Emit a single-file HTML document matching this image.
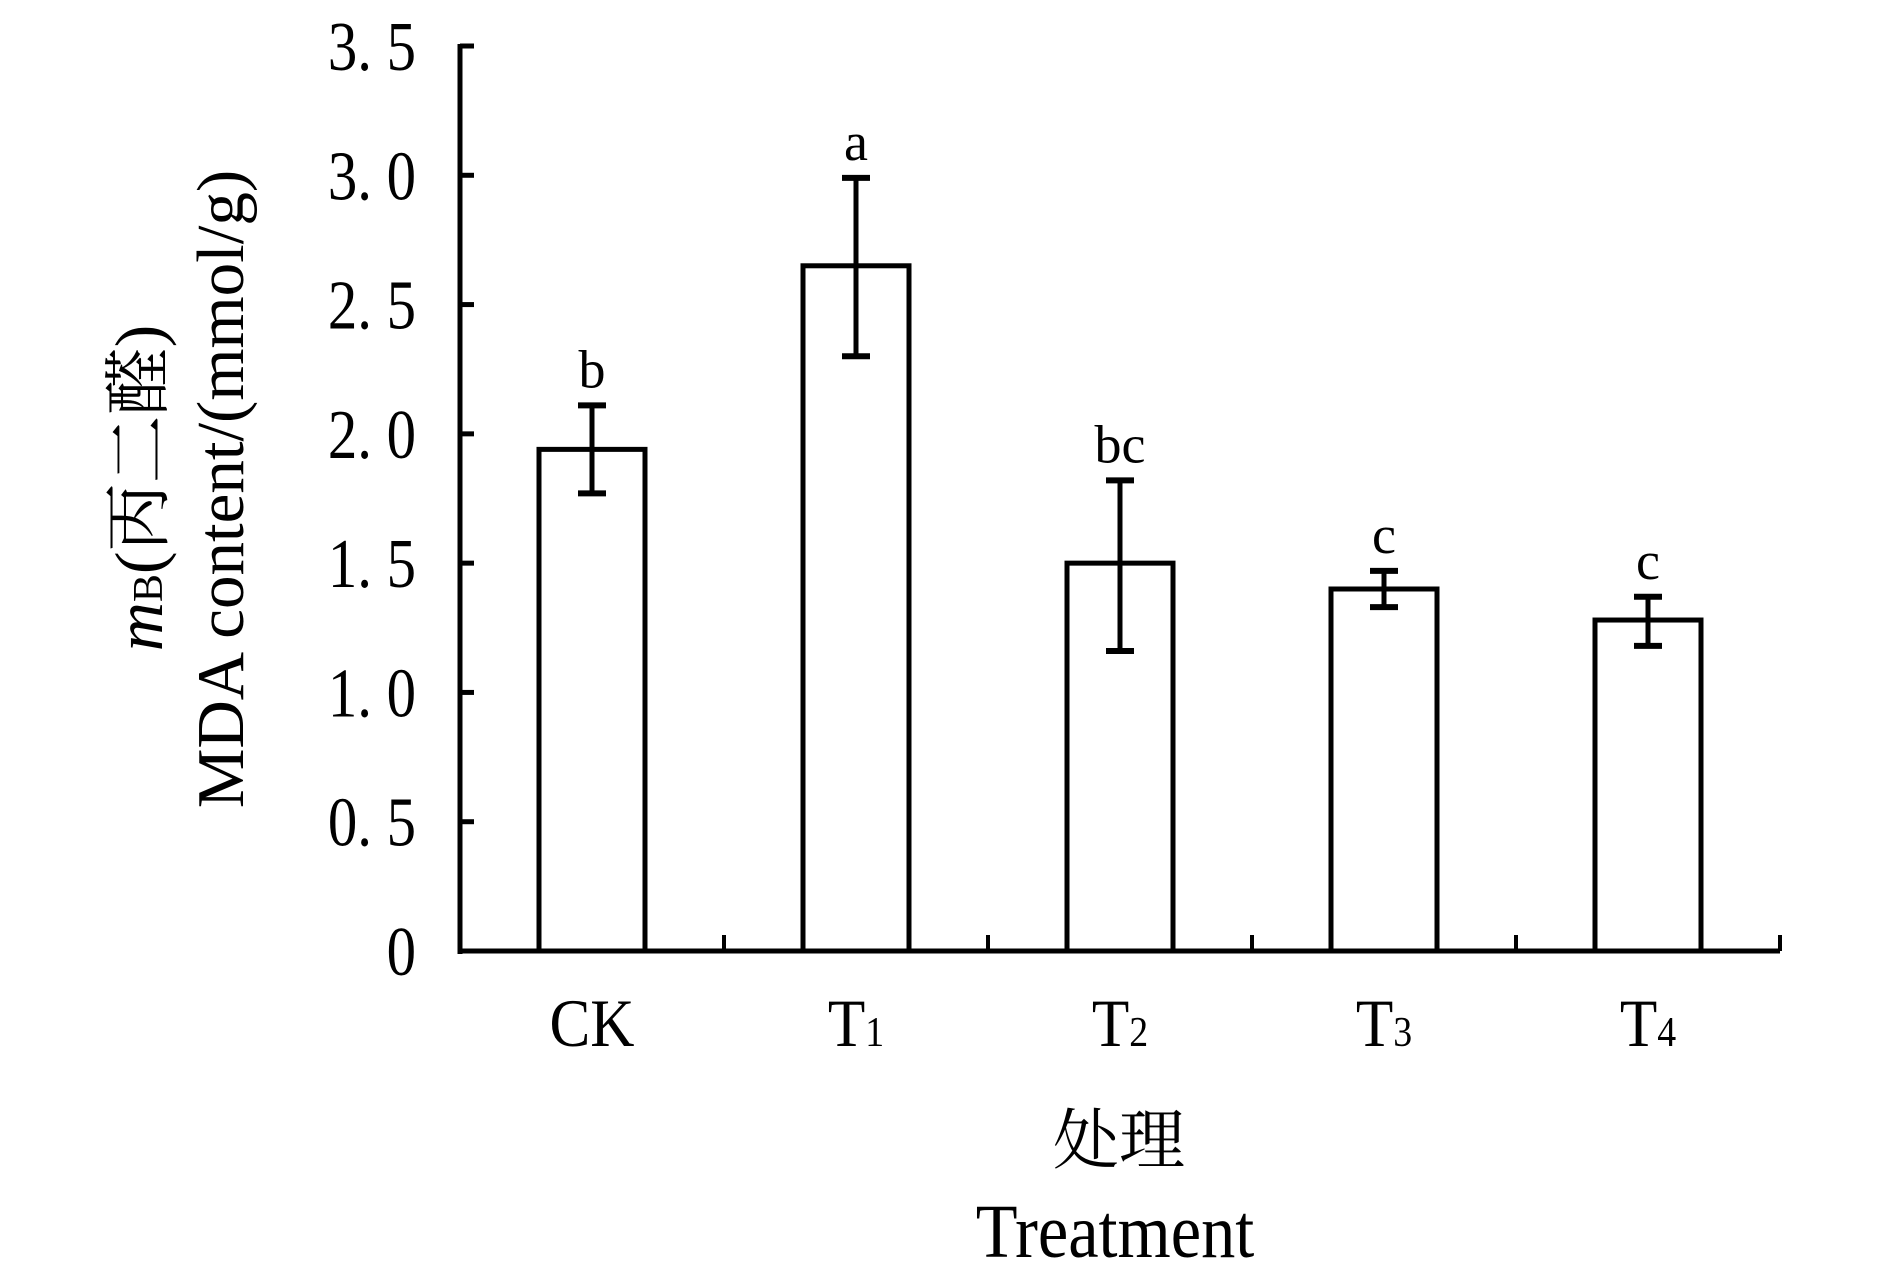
<!DOCTYPE html>
<html><head><meta charset="utf-8"><style>
html,body{margin:0;padding:0;background:#fff;}
svg{display:block;}
text{font-family:"Liberation Serif","Noto Serif CJK SC",serif;fill:#000;}
</style></head><body>
<svg id="chart" width="1887" height="1274" viewBox="0 0 1887 1274" xmlns="http://www.w3.org/2000/svg">
<g id="axes"></g>
<g id="bars"></g>
<g id="labels"></g>
<text transform="translate(162,488) rotate(-90)" font-size="68" text-anchor="middle"><tspan font-style="italic">m</tspan><tspan font-size="42">B</tspan>(丙二醛)</text>
<text transform="translate(243,489) rotate(-90)" font-size="67" text-anchor="middle">MDA content/(mmol/g)</text>
<text transform="translate(1119,1163)" font-size="66" text-anchor="middle">处理</text>
<text transform="translate(1115,1257) scale(0.9,1)" font-size="76" text-anchor="middle">Treatment</text>
</svg>
<script>
const categories = ["CK","T1","T2","T3","T4"];
const subs = ["","1","2","3","4"];
const means = [1.94, 2.65, 1.50, 1.40, 1.28];
const errHigh = [2.11, 2.99, 1.82, 1.47, 1.37];
const errLow = [1.77, 2.30, 1.16, 1.33, 1.18];
const letters = ["b","a","bc","c","c"];
const yTicks = [0,0.5,1.0,1.5,2.0,2.5,3.0,3.5];
const yTickLabels = ["0","0. 5","1. 0","1. 5","2. 0","2. 5","3. 0","3. 5"];

const NS="http://www.w3.org/2000/svg";
const x0=460, x1=1780, y0=951, yTop=46;
function yScale(v){return y0-(y0-yTop)*v/3.5;}
const band=(x1-x0)/categories.length;
function xCenter(i){return x0+band*(i+0.5);}
function mk(tag,attrs,parent){const e=document.createElementNS(NS,tag);for(const k in attrs)e.setAttribute(k,attrs[k]);parent.appendChild(e);return e;}
const axes=document.getElementById('axes'), bars=document.getElementById('bars'), labels=document.getElementById('labels');

let yl=mk('line',{x1:x0,y1:yScale(3.5)-2,x2:x0,y2:y0+3,stroke:'#000','stroke-width':5},axes);


let xl=mk('line',{x1:x0-2,y1:y0,x2:x1,y2:y0,stroke:'#000','stroke-width':5},axes);



yTicks.forEach((v,i)=>{
  const y=yScale(v);
  let t=mk('line',{x1:x0,y1:y,x2:x0+14,y2:y,stroke:'#000','stroke-width':5},axes);
  
  
  let tx=mk('text',{transform:`translate(416,${y+24}) scale(0.84,1)`,'font-size':70,'text-anchor':'end','xml:space':'preserve'},labels);
  tx.textContent=yTickLabels[i];
  
  
});
for(let i=1;i<=categories.length;i++){
  const x=x0+band*i;
  let t=mk('line',{x1:x,y1:y0,x2:x,y2:y0-16,stroke:'#000','stroke-width':4},axes);
  
  
}
const bw=106;
categories.forEach((c,i)=>{
  const cx=xCenter(i), yt=yScale(means[i]);
  let r=mk('rect',{x:cx-bw/2,y:yt,width:bw,height:y0-yt,fill:'#fff',stroke:'#000','stroke-width':5},bars);
  
  
  const yh=yScale(errHigh[i]), ylo=yScale(errLow[i]);
  let g=mk('g',{},bars);
  
  
  mk('line',{x1:cx,y1:yh,x2:cx,y2:ylo,stroke:'#000','stroke-width':5},g);
  mk('line',{x1:cx-14,y1:yh,x2:cx+14,y2:yh,stroke:'#000','stroke-width':6},g);
  mk('line',{x1:cx-14,y1:ylo,x2:cx+14,y2:ylo,stroke:'#000','stroke-width':6},g);
  let lt=mk('text',{x:cx,y:yh-18,'font-size':54,'text-anchor':'middle'},labels);
  lt.textContent=letters[i];
  
  
  let cl=mk('text',{transform:`translate(${cx},1046) scale(0.9,1)`,'font-size':68,'text-anchor':'middle'},labels);
  
  
  const name=c.charAt(0)==='T'?'T':c;
  const t1=document.createElementNS(NS,'tspan');t1.textContent=name;cl.appendChild(t1);
  if(subs[i]){const t2=document.createElementNS(NS,'tspan');t2.setAttribute('font-size',42);t2.textContent=subs[i];cl.appendChild(t2);}
});
</script>
</body></html>
